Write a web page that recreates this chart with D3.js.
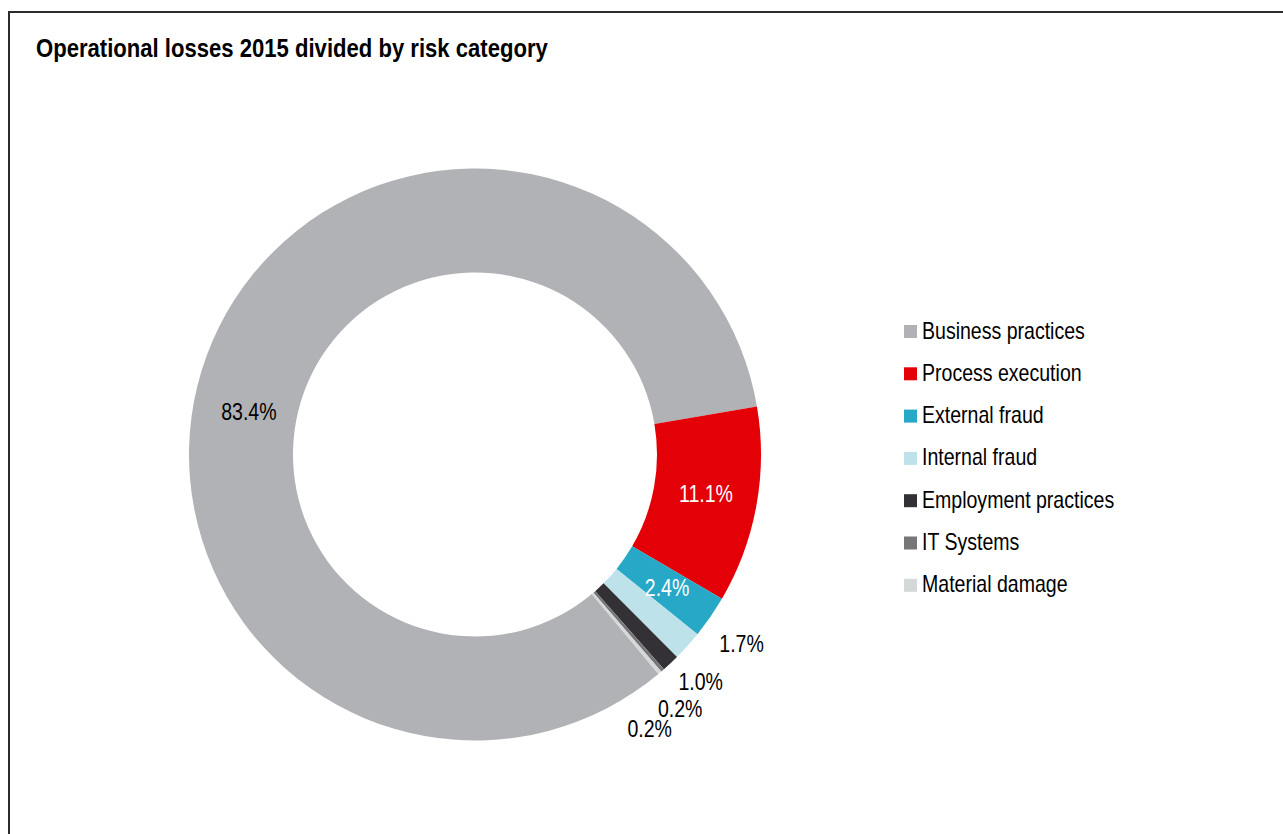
<!DOCTYPE html>
<html>
<head>
<meta charset="utf-8">
<script src="https://cdn.jsdelivr.net/npm/d3@7"></script>
<style>
  html, body { margin: 0; padding: 0; background: #fff; }
  svg { display: block; }
  text { font-family: "Liberation Sans Narrow", "Arial Narrow", "Liberation Sans", Arial, sans-serif; }
</style>
</head>
<body>
<svg id="chart" width="1283" height="834"></svg>
<script>
const categories = ["Business practices", "Process execution", "External fraud", "Internal fraud", "Employment practices", "IT Systems", "Material damage"];
const values = [83.4, 11.1, 2.4, 1.7, 1.0, 0.2, 0.2];
const labels = ["83.4%", "11.1%", "2.4%", "1.7%", "1.0%", "0.2%", "0.2%"];
const colors = ["#b1b2b5", "#e30007", "#27a8c6", "#bde2ea", "#333136", "#77777a", "#d5d8d8"];
const titleText = "Operational losses 2015 divided by risk category";

const svg = d3.select("#chart");
const NARROW = 0.85; // horizontal condensing to mimic a narrow typeface

// frame (top and left edges visible)
svg.append("path")
  .attr("d", "M9,834 L9,12 L1283,12")
  .attr("fill", "none").attr("stroke", "#2b2b2e").attr("stroke-width", 2);

svg.append("text")
  .attr("transform", `translate(36,57) scale(${NARROW},1)`)
  .attr("font-size", 26).attr("font-weight", "bold").attr("fill", "#000")
  .text(titleText);

const cx = 475, cy = 454.5, R = 286, r = 182;
const data = categories.map((c, i) => ({ cat: c, value: values[i], label: labels[i], color: colors[i] }));

const deg = Math.PI / 180;
const pie = d3.pie().sort(null).value(d => d.value)
  .startAngle(-219.9 * deg).endAngle(140.1 * deg);
const arcs = pie(data);
const arc = d3.arc().innerRadius(r).outerRadius(R);

const g = svg.append("g").attr("transform", `translate(${cx},${cy})`);
g.selectAll("path.slice").data(arcs).join("path")
  .attr("class", "slice")
  .attr("d", arc)
  .attr("fill", d => d.data.color);

// label placement: radius factor and angular shift (degrees) from slice mid-angle
const labelPlace = [
  { rad: 0.804, shift: -9.8, col: "#000" },
  { rad: 0.82, shift: -0.4, col: "#fff" },
  { rad: 0.818, shift: 0.2, col: "#fff" },
  { rad: 1.145, shift: -6.5, col: "#000" },
  { rad: 1.121, shift: -1.6, col: "#000" },
  { rad: 1.143, shift: 2.1, col: "#000" },
  { rad: 1.138, shift: 7.8, col: "#000" }
];
g.selectAll("text.lbl").data(arcs).join("text")
  .attr("class", "lbl")
  .attr("text-anchor", "middle")
  .attr("dominant-baseline", "central")
  .attr("font-size", 23)
  .attr("fill", (d, i) => labelPlace[i].col)
  .attr("transform", (d, i) => {
    const a = (d.startAngle + d.endAngle) / 2 + labelPlace[i].shift * deg;
    const rr = R * labelPlace[i].rad;
    return `translate(${Math.sin(a) * rr},${-Math.cos(a) * rr}) scale(${NARROW},1)`;
  })
  .text(d => d.data.label);

// legend
const lg = svg.append("g").attr("transform", "translate(904,331)");
const row = d3.scaleBand().domain(categories).range([0, 42.3 * categories.length]).paddingInner(0);
const items = lg.selectAll("g").data(data).join("g")
  .attr("transform", d => `translate(0,${row(d.cat)})`);
items.append("rect").attr("x", 0).attr("y", -6).attr("width", 13).attr("height", 13)
  .attr("fill", d => d.color);
items.append("text")
  .attr("transform", `translate(18,0) scale(${NARROW},1)`)
  .attr("dominant-baseline", "central")
  .attr("font-size", 23).attr("fill", "#000")
  .text(d => d.cat);
</script>
</body>
</html>
